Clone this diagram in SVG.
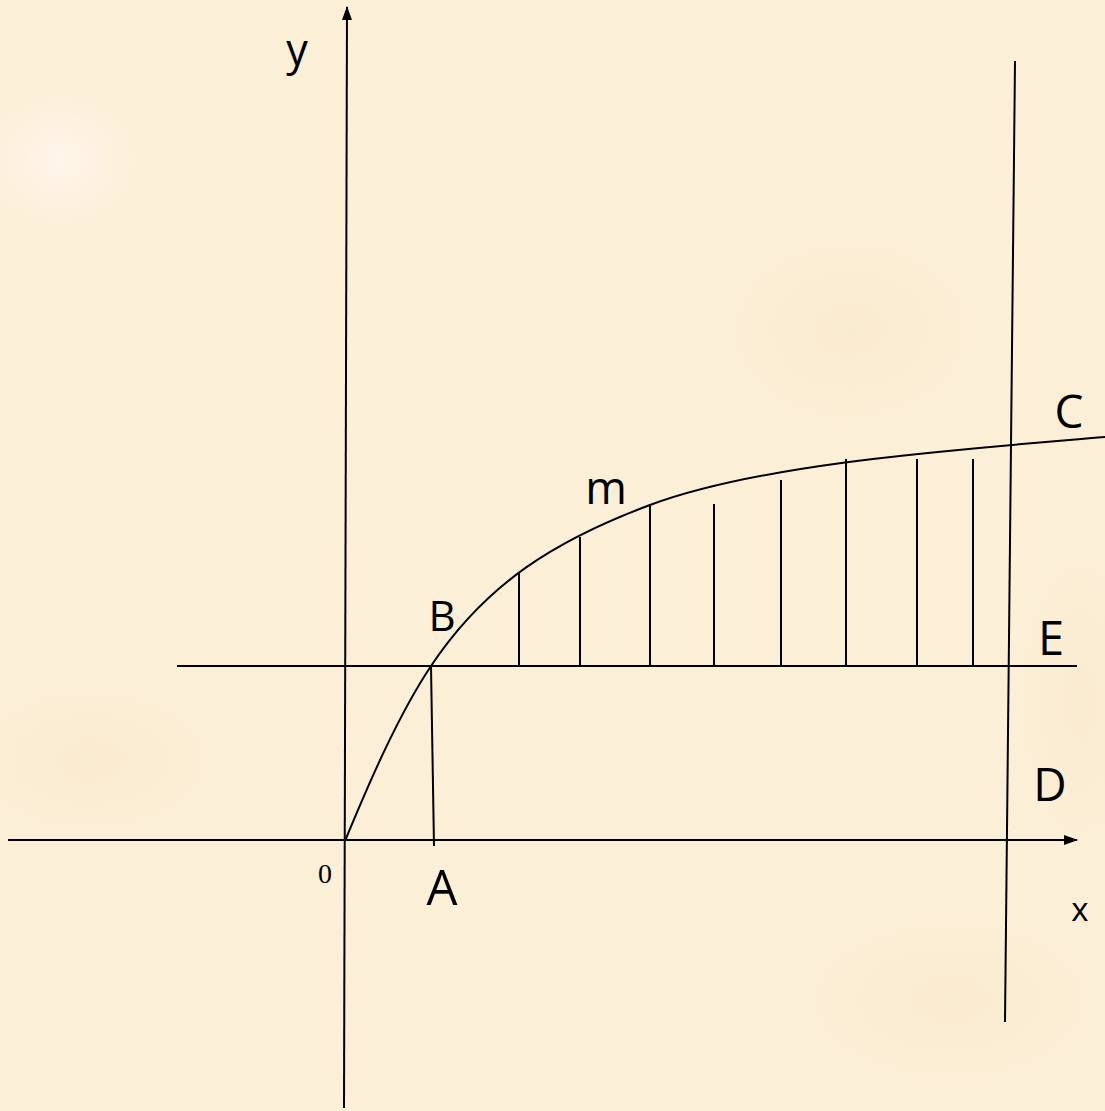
<svg xmlns="http://www.w3.org/2000/svg" width="1105" height="1111" viewBox="0 0 1105 1111">
<style>
.ln{stroke:#000;stroke-width:2;fill:none;stroke-linecap:butt}
.lb{font-family:"Open Sans","Noto Sans",sans-serif;fill:#000;text-anchor:middle}
.sr{font-family:"Liberation Serif",serif;fill:#000;text-anchor:middle}
</style>
<defs>
<radialGradient id="spot" cx="0.5" cy="0.5" r="0.5">
<stop offset="0" stop-color="#FFF5EC" stop-opacity="0.9"/>
<stop offset="1" stop-color="#FFF5EC" stop-opacity="0"/>
</radialGradient>
<radialGradient id="warm" cx="0.5" cy="0.5" r="0.5">
<stop offset="0" stop-color="#F5E3C2" stop-opacity="0.35"/>
<stop offset="1" stop-color="#F5E3C2" stop-opacity="0"/>
</radialGradient>
<marker id="ah" viewBox="0 0 14 10" refX="13" refY="5" markerWidth="14" markerHeight="10" markerUnits="userSpaceOnUse" orient="auto">
<path d="M0,0 L14,5 L0,10 Z" fill="#000"/>
</marker>
</defs>
<rect id="background" width="1105" height="1111" fill="#FCEFD7"/>
<ellipse cx="60" cy="160" rx="90" ry="75" fill="url(#spot)"/>
<ellipse cx="850" cy="330" rx="120" ry="90" fill="url(#warm)"/>
<ellipse cx="1080" cy="700" rx="60" ry="140" fill="url(#warm)"/>
<ellipse cx="90" cy="760" rx="120" ry="70" fill="url(#warm)"/>
<ellipse cx="950" cy="1000" rx="140" ry="80" fill="url(#warm)"/>
<g id="connectors">
<line id="x-axis" class="ln" x1="8" y1="840" x2="1077" y2="840" marker-end="url(#ah)"/>
<line id="y-axis" class="ln" x1="344" y1="1108" x2="347" y2="7" marker-end="url(#ah)"/>
<line id="line-E" class="ln" x1="177" y1="666" x2="1077" y2="666"/>
<line id="line-D" class="ln" x1="1015" y1="61" x2="1005" y2="1022"/>
<line id="line-BA" class="ln" x1="431" y1="666" x2="434" y2="846"/>
<path id="curve" class="ln" d="M345,841 C367.9,785.5 397.7,715.9 431,666 C486.5,582.8 556.3,540 650,505 C762.4,463 955.6,449.8 1105,437"/>
<g id="hatching">
<line class="ln" x1="519" y1="666" x2="519" y2="573"/>
<line class="ln" x1="580" y1="666" x2="580" y2="537"/>
<line class="ln" x1="650" y1="666" x2="650" y2="504"/>
<line class="ln" x1="714" y1="666" x2="714" y2="504"/>
<line class="ln" x1="781" y1="666" x2="781" y2="480"/>
<line class="ln" x1="846" y1="666" x2="846" y2="459"/>
<line class="ln" x1="917" y1="666" x2="917" y2="459"/>
<line class="ln" x1="973" y1="666" x2="973" y2="459"/>
</g>
</g>
<g id="labels">
<text id="lbl-y" class="lb" x="297" y="65" font-size="43">y</text>
<text id="lbl-0" class="sr" x="325" y="883" font-size="28">0</text>
<text id="lbl-A" class="lb" x="442" y="905" font-size="49">A</text>
<text id="lbl-B" class="lb" x="442" y="631" font-size="42">B</text>
<text id="lbl-m" class="lb" x="606" y="504" font-size="45">m</text>
<text id="lbl-C" class="lb" x="1069" y="428" font-size="46">C</text>
<text id="lbl-E" class="lb" x="1051" y="655" font-size="47">E</text>
<text id="lbl-D" class="lb" x="1050" y="801" font-size="46">D</text>
<text id="lbl-x" class="lb" x="1080" y="921" font-size="33">x</text>
</g>
</svg>
